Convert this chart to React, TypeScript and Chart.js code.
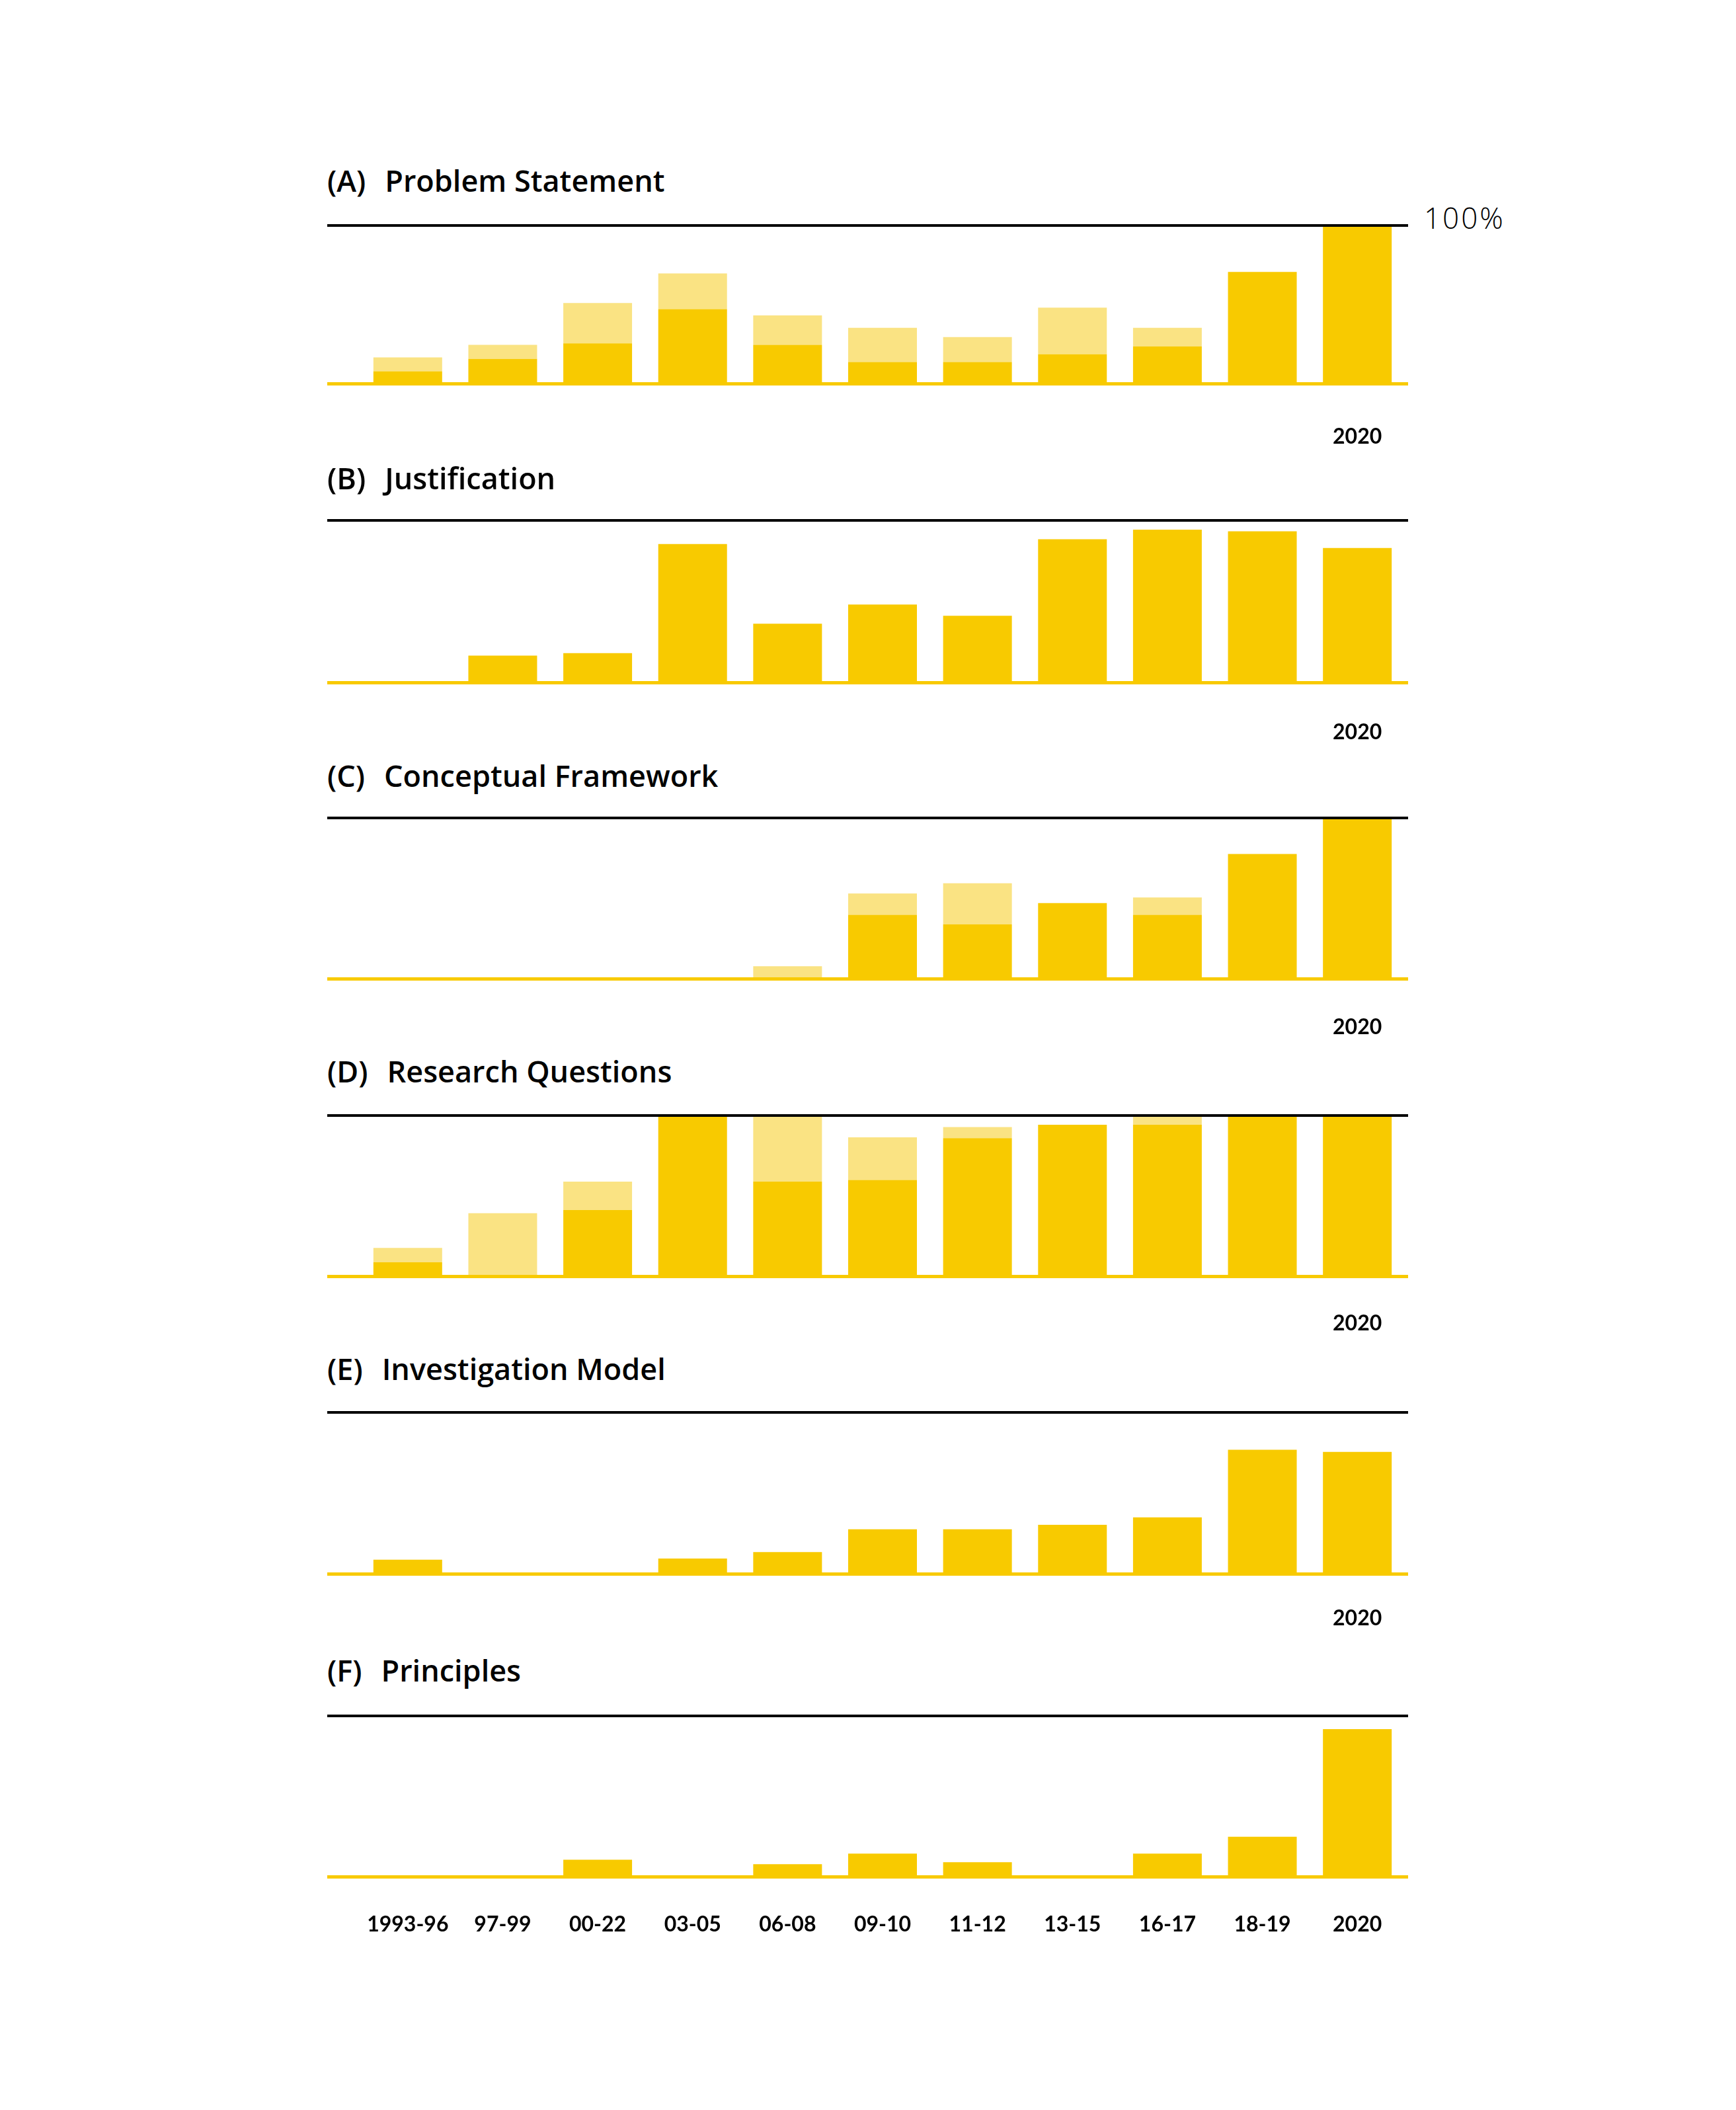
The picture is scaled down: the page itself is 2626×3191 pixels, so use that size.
import React, { useEffect, useRef } from "react";
import { Chart, registerables } from "chart.js";

Chart.register(...registerables);

// ---------- DATA ----------
const categories = ["1993-96", "97-99", "00-22", "03-05", "06-08", "09-10", "11-12", "13-15", "16-17", "18-19", "2020"];

// share of studies (0..1): solid part and lighter "partial" part stacked on top
const problemStatementFull = [0.07, 0.15, 0.25, 0.47, 0.24, 0.13, 0.13, 0.18, 0.23, 0.71, 1.0];
const problemStatementPartial = [0.09, 0.09, 0.26, 0.23, 0.19, 0.22, 0.16, 0.3, 0.12, 0, 0];

const justificationFull = [0, 0.16, 0.175, 0.86, 0.36, 0.48, 0.41, 0.89, 0.95, 0.94, 0.835];
const justificationPartial = [0, 0, 0, 0, 0, 0, 0, 0, 0, 0, 0];

const conceptualFrameworkFull = [0, 0, 0, 0, 0, 0.395, 0.335, 0.47, 0.395, 0.78, 1.0];
const conceptualFrameworkPartial = [0, 0, 0, 0, 0.07, 0.135, 0.26, 0, 0.11, 0, 0];

const researchQuestionsFull = [0.08, 0, 0.41, 1.0, 0.59, 0.6, 0.865, 0.95, 0.95, 1.0, 1.0];
const researchQuestionsPartial = [0.09, 0.39, 0.18, 0, 0.41, 0.27, 0.07, 0, 0.05, 0, 0];

const investigationModelFull = [0.08, 0, 0, 0.087, 0.128, 0.272, 0.272, 0.3, 0.347, 0.773, 0.759];
const investigationModelPartial = [0, 0, 0, 0, 0, 0, 0, 0, 0, 0, 0];

const principlesFull = [0, 0, 0.098, 0, 0.07, 0.137, 0.083, 0, 0.137, 0.244, 0.925];
const principlesPartial = [0, 0, 0, 0, 0, 0, 0, 0, 0, 0, 0];

const topLabel = "100%";

// ---------- STYLE ----------
const DARK = "#F8CA00";
const LIGHT = "#FAE383";
const TITLE_FONT = "'Open Sans', Lato, sans-serif";
const TICK_FONT = "Lato, 'Open Sans', sans-serif";

type Panel = {
  letter: string;
  name: string;
  full: number[];
  partial: number[];
  allLabels: boolean;
  titleY: number;
  plotTop: number;
  plotBottom: number;
  labelOffset: number;
};

const panels: Panel[] = [
  { letter: "(A)", name: "Problem Statement", full: problemStatementFull, partial: problemStatementPartial, allLabels: false, titleY: 271, plotTop: 343, plotBottom: 578, labelOffset: 82 },
  { letter: "(B)", name: "Justification", full: justificationFull, partial: justificationPartial, allLabels: false, titleY: 721, plotTop: 789, plotBottom: 1030, labelOffset: 77 },
  { letter: "(C)", name: "Conceptual Framework", full: conceptualFrameworkFull, partial: conceptualFrameworkPartial, allLabels: false, titleY: 1171, plotTop: 1239, plotBottom: 1478, labelOffset: 75 },
  { letter: "(D)", name: "Research Questions", full: researchQuestionsFull, partial: researchQuestionsPartial, allLabels: false, titleY: 1618, plotTop: 1689, plotBottom: 1928, labelOffset: 73 },
  { letter: "(E)", name: "Investigation Model", full: investigationModelFull, partial: investigationModelPartial, allLabels: false, titleY: 2068, plotTop: 2138, plotBottom: 2378, labelOffset: 69 },
  { letter: "(F)", name: "Principles", full: principlesFull, partial: principlesPartial, allLabels: true, titleY: 2524, plotTop: 2597, plotBottom: 2836, labelOffset: 74 },
];

const LEFT = 495;
const PAD_LEFT = 50;
const PAD_RIGHT = 5;
const PAD_TOP = 20;
const PAD_BOTTOM = 10;
const CANVAS_W = 1635;
const TICK_SIZE = 32;

const linesPlugin = {
  id: "refLines",
  afterDatasetsDraw(chart: any) {
    const { ctx } = chart;
    const y = chart.scales.y;
    const y1 = y.getPixelForValue(1);
    const y0 = y.getPixelForValue(0);
    ctx.save();
    ctx.fillStyle = DARK;
    ctx.fillRect(0, y0, chart.width, 5);
    ctx.fillStyle = "#000";
    ctx.fillRect(0, y1 - 4, chart.width, 4);
    ctx.restore();
  },
};

function PanelChart({ panel }: { panel: Panel }) {
  const ref = useRef<HTMLCanvasElement | null>(null);
  const plotH = panel.plotBottom - panel.plotTop;
  const tickPad = panel.labelOffset - Math.round(TICK_SIZE * 0.6);
  const axisH = Math.round(tickPad + TICK_SIZE * 1.2 + 4);
  const h = Math.round(PAD_TOP + plotH + PAD_BOTTOM + axisH);

  useEffect(() => {
    if (!ref.current) return;
    const last = categories.length - 1;
    const chart = new Chart(ref.current, {
      type: "bar",
      data: {
        labels: categories,
        datasets: [
          { data: panel.full, backgroundColor: DARK, borderWidth: 0, barPercentage: 0.724, categoryPercentage: 1, stack: "s" },
          { data: panel.partial, backgroundColor: LIGHT, borderWidth: 0, barPercentage: 0.724, categoryPercentage: 1, stack: "s" },
        ],
      },
      options: {
        animation: false,
        responsive: false,
        maintainAspectRatio: false,
        devicePixelRatio: 1,
        layout: { padding: { left: PAD_LEFT, right: PAD_RIGHT, top: PAD_TOP, bottom: PAD_BOTTOM } },
        plugins: { legend: { display: false }, tooltip: { enabled: false }, title: { display: false } },
        scales: {
          x: {
            stacked: true,
            grid: { display: false, drawTicks: false },
            border: { display: false },
            ticks: {
              autoSkip: false,
              maxRotation: 0,
              minRotation: 0,
              padding: tickPad,
              color: "#000",
              font: { family: TICK_FONT, weight: "bold", size: TICK_SIZE },
              callback: (_v: any, i: number) => (panel.allLabels || i === last ? categories[i] : ""),
            },
            afterFit: (scale: any) => {
              scale.height = axisH;
              scale.paddingLeft = 0;
              scale.paddingRight = 0;
            },
          },
          y: { stacked: true, min: 0, max: 1, display: false },
        },
      },
      plugins: [linesPlugin],
    } as any);
    return () => chart.destroy();
  }, [panel]);

  return (
    <>
      <div
        style={{
          position: "absolute",
          left: LEFT,
          top: panel.titleY - 23,
          height: 50,
          lineHeight: "50px",
          fontFamily: TITLE_FONT,
          fontWeight: 600,
          fontSize: 45,
          color: "#000",
          whiteSpace: "nowrap",
        }}
      >
        <span style={{ marginRight: 29 }}>{panel.letter}</span>
        <span>{panel.name}</span>
      </div>
      <canvas
        ref={ref}
        width={CANVAS_W}
        height={h}
        style={{ position: "absolute", left: LEFT, top: panel.plotTop - PAD_TOP, width: CANVAS_W, height: h }}
      />
    </>
  );
}

export default function App() {
  return (
    <div style={{ position: "absolute", left: 0, top: 0, width: 2626, height: 3191, background: "#fff", overflow: "hidden" }}>
      {panels.map((p) => (
        <PanelChart key={p.letter} panel={p} />
      ))}
      <div
        style={{
          position: "absolute",
          left: 2154,
          top: 304,
          height: 50,
          lineHeight: "50px",
          fontFamily: TITLE_FONT,
          fontWeight: 300,
          fontSize: 44,
          color: "#000",
          letterSpacing: 3,
        }}
      >
        {topLabel}
      </div>
    </div>
  );
}
